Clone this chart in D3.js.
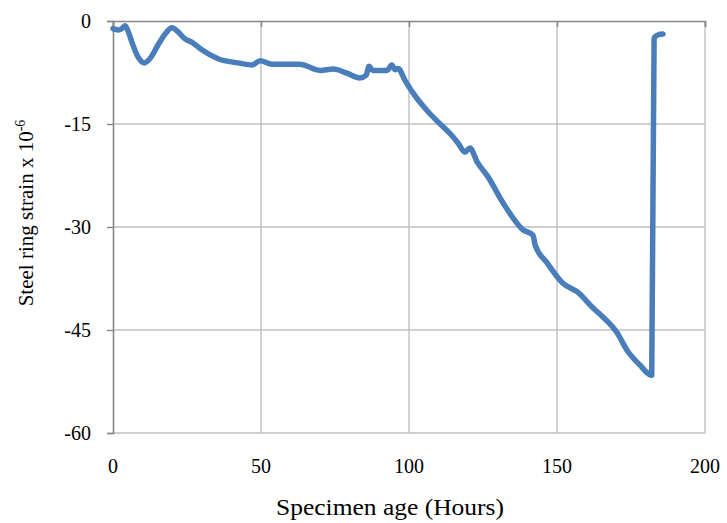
<!DOCTYPE html>
<html>
<head>
<meta charset="utf-8">
<script src="https://cdn.jsdelivr.net/npm/d3@7"></script>
<style>
  html, body { margin: 0; padding: 0; background: #fff; }
  svg { display: block; }
  text { font-family: "Liberation Serif", "DejaVu Serif", serif; fill: #000; }
</style>
</head>
<body>
<svg id="chart" width="727" height="523"></svg>
<script>
// Specimen age (hours) and steel ring strain (x 10^-6)
const hours = [0, 0.7, 1.7, 3.0, 4.1, 5.2, 6.4, 8.4, 10.5, 12.8, 15.2, 17.6, 19.9, 22.0, 24.3, 26.7, 30.0, 35.5, 42.2, 47.0, 49.7, 53.7, 56.4, 63.0, 70.0, 74.3, 79.0, 83.4, 85.5, 86.5, 87.8, 92.6, 94.2, 95.3, 96.3, 98.6, 101.4, 106.0, 109.8, 114.9, 116.6, 118.9, 120.6, 123.0, 126.7, 131.8, 138.5, 141.9, 142.6, 146.6, 152.0, 157.0, 162.2, 165.5, 170.3, 173.6, 178.0, 182.0, 182.8, 183.1, 184.3, 185.8];
const strain = [-1.1, -1.2, -1.3, -1.1, -0.7, -1.6, -3.1, -5.2, -6.1, -5.3, -3.5, -1.9, -1.0, -1.6, -2.6, -3.1, -4.2, -5.5, -6.1, -6.4, -5.8, -6.3, -6.3, -6.3, -7.2, -7.0, -7.6, -8.3, -7.9, -6.6, -7.2, -7.2, -6.4, -7.1, -6.9, -8.6, -10.5, -13.0, -14.7, -16.9, -17.8, -19.1, -18.5, -20.5, -22.7, -26.5, -30.4, -31.2, -32.6, -35.2, -38.2, -39.5, -41.8, -43.1, -45.4, -47.9, -50.1, -51.6, -2.6, -2.3, -2.0, -1.9];

const xTicks = [0, 50, 100, 150, 200];
const yTicks = [0, -15, -30, -45, -60];

const xTitle = "Specimen age (Hours)";
const yTitle = "Steel ring strain x 10";
const yTitleSup = "-6";

const svg = d3.select("#chart");
const plotLeft = 113, plotRight = 705, plotTop = 21, plotBottom = 433;

const x = d3.scaleLinear().domain([0, 200]).range([plotLeft, plotRight]);
const y = d3.scaleLinear().domain([0, -60]).range([plotTop, plotBottom]);

const gridColor = "#bfbfbf";
const axisColor = "#868686";

// gridlines
svg.append("g")
  .selectAll("line")
  .data(xTicks.filter(d => d > 0))
  .join("line")
  .attr("x1", d => x(d)).attr("x2", d => x(d))
  .attr("y1", plotTop).attr("y2", plotBottom)
  .attr("stroke", gridColor).attr("stroke-width", 1.4);

svg.append("g")
  .selectAll("line")
  .data(yTicks.filter(d => d < 0))
  .join("line")
  .attr("x1", plotLeft).attr("x2", plotRight)
  .attr("y1", d => y(d)).attr("y2", d => y(d))
  .attr("stroke", gridColor).attr("stroke-width", 1.4);

// y axis (left), labels with a plain hyphen minus
const yAxis = d3.axisLeft(y).tickValues(yTicks).tickSize(6).tickPadding(16).tickFormat(d => String(d));
const gy = svg.append("g").attr("transform", `translate(${plotLeft},0)`).call(yAxis);
gy.select(".domain").attr("stroke", axisColor).attr("stroke-width", 1.6);
gy.selectAll(".tick line").attr("stroke", axisColor).attr("stroke-width", 1.4);
gy.selectAll(".tick text").attr("font-size", 20).attr("font-family", "Liberation Serif").attr("fill", "#000");

// x axis drawn along strain = 0, labels below the plot
const xAxisLine = d3.axisBottom(x).tickValues(xTicks).tickSize(6).tickFormat("");
const gx = svg.append("g").attr("transform", `translate(0,${y(0)})`).call(xAxisLine);
gx.select(".domain").attr("stroke", axisColor).attr("stroke-width", 1.6);
gx.selectAll(".tick line").attr("stroke", axisColor).attr("stroke-width", 1.4);

svg.append("g")
  .selectAll("text")
  .data(xTicks)
  .join("text")
  .attr("x", d => x(d))
  .attr("y", 473)
  .attr("text-anchor", "middle")
  .attr("font-size", 20)
  .text(d => d);

// data line
svg.append("path")
  .datum(strain)
  .attr("d", d3.line().x((d, i) => x(hours[i])).y(d => y(d)).curve(d3.curveMonotoneX))
  .attr("fill", "none")
  .attr("stroke", "#4a7ebb")
  .attr("stroke-width", 5.5)
  .attr("stroke-linejoin", "round")
  .attr("stroke-linecap", "round");

// axis titles
svg.append("text")
  .attr("x", 390)
  .attr("y", 515)
  .attr("text-anchor", "middle")
  .attr("font-size", 23)
  .attr("textLength", 228)
  .attr("lengthAdjust", "spacingAndGlyphs")
  .text(xTitle);

const yt = svg.append("text")
  .attr("transform", "translate(33,213) rotate(-90)")
  .attr("text-anchor", "middle")
  .attr("font-size", 21);
yt.append("tspan").text(yTitle);
yt.append("tspan").attr("dy", -8).attr("font-size", 14).text(yTitleSup);
</script>
</body>
</html>
